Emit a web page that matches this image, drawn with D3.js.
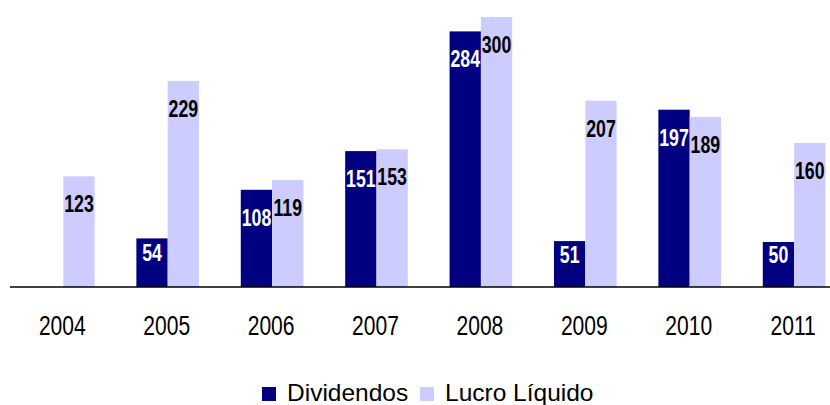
<!DOCTYPE html>
<html>
<head>
<meta charset="utf-8">
<script src="https://cdn.jsdelivr.net/npm/d3@7"></script>
<style>
  html, body { margin: 0; padding: 0; background: #fff; }
  svg { display: block; font-family: "Liberation Sans", Arial, sans-serif; }
</style>
</head>
<body>
<svg id="chart" width="830" height="405"></svg>
<script>
const years = ["2004", "2005", "2006", "2007", "2008", "2009", "2010", "2011"];
const seriesNames = ["Dividendos", "Lucro Líquido"];
const dividendos = [null, 54, 108, 151, 284, 51, 197, 50];
const lucro = [123, 229, 119, 153, 300, 207, 189, 160];
const colors = ["#000080", "#CCCCFF"];
const labelColors = ["#ffffff", "#000000"];

const svg = d3.select("#chart");
const baseY = 287;

const x = d3.scaleBand().domain(years).range([11.1, 846.3]).paddingInner(0.4).paddingOuter(0.2);
const xs = d3.scaleBand().domain(seriesNames).range([0, x.bandwidth()]);
const y = d3.scaleLinear().domain([0, 300]).range([baseY, 17]);

const rows = [];
years.forEach((yr, i) => {
  [dividendos[i], lucro[i]].forEach((v, s) => {
    if (v != null) rows.push({ year: yr, series: seriesNames[s], s, value: v });
  });
});

svg.append("g").selectAll("rect").data(rows).join("rect")
  .attr("x", d => x(d.year) + xs(d.series))
  .attr("y", d => y(d.value))
  .attr("width", xs.bandwidth())
  .attr("height", d => baseY - y(d.value))
  .attr("fill", d => colors[d.s]);

// value labels
svg.append("g").selectAll("text").data(rows).join("text")
  .attr("transform", d => {
    const cx = x(d.year) + xs(d.series) + xs.bandwidth() / 2;
    const h = baseY - y(d.value);
    const by = y(d.value) + Math.min(36, h * 0.47);
    return `translate(${cx},${by}) scale(0.74,1)`;
  })
  .attr("text-anchor", "middle")
  .attr("font-size", 24)
  .attr("font-weight", "bold")
  .attr("fill", d => labelColors[d.s])
  .text(d => d.value);

// baseline axis
svg.append("line")
  .attr("x1", 10).attr("x2", 830)
  .attr("y1", baseY).attr("y2", baseY)
  .attr("stroke", "#000").attr("stroke-width", 1.4);

// year labels
svg.append("g").selectAll("text").data(years).join("text")
  .attr("transform", d => `translate(${x(d) + x.bandwidth() / 2 - 1},335) scale(0.78,1)`)
  .attr("text-anchor", "middle")
  .attr("font-size", 27)
  .attr("fill", "#000")
  .text(d => d);

// legend
const legendX = [262, 420];
const lg = svg.append("g").selectAll("g").data(seriesNames).join("g")
  .attr("transform", (d, i) => `translate(${legendX[i]},0)`);
lg.append("rect").attr("x", 0).attr("y", 387).attr("width", 14).attr("height", 14)
  .attr("fill", (d, i) => colors[i]);
lg.append("text").attr("x", 25).attr("y", 401)
  .attr("font-size", 24.5).attr("fill", "#000")
  .text(d => d);
</script>
</body>
</html>
